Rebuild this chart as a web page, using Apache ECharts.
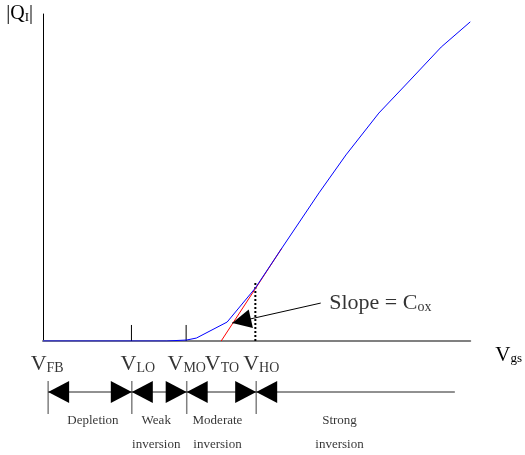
<!DOCTYPE html>
<html><head><meta charset="utf-8">
<script src="https://cdn.jsdelivr.net/npm/echarts@6/dist/echarts.min.js"></script>
<style>html,body{margin:0;padding:0;background:#fff}#c{width:525px;height:455px}</style>
</head><body><div id="c"></div>
<script>
// Gate voltage (arbitrary units) and inversion charge |Q_I| (arbitrary units)
const vgs = [0, 28.9, 33.6, 35.9, 43.1, 49.7, 55.9, 64.6, 70.9, 78.6, 85.5, 93.2, 100];
const qi  = [0, 0, 0.3, 0.9, 5.8, 16.2, 28.4, 45.3, 56.9, 69.7, 79.2, 89.9, 97.6];
// Strong-inversion extrapolation (slope = Cox)
const asymVgs = [41.7, 55.9];
const asymQi  = [0, 28.4];
// Characteristic voltages
const vNames  = ['FB', 'LO', 'MO', 'TO', 'HO'];
const vValues = [1.2, 20.7, 33.5, 41.7, 49.7];
// Axis tick marks and V_HO marker height
const tickVs = [20.7, 33.5];
const hoMarkQi = 18;
// Region boundaries and names
const regionBounds = [1.2, 20.7, 33.5, 49.7, 96];
const regionNames = [['Depletion', ' '], ['Weak', 'inversion'], ['Moderate', 'inversion'], ['Strong', 'inversion']];
// "Slope = Cox" annotation arrow (tail -> tip) in chart units
const slopeTail = [65.0, 11.6];
const slopeTip  = [44.3, 5.5];

const FONT = 'Liberation Serif';
// layout rows of the annotation lane (lane units, 0 = top of lane)
const ROW_V = 19.6, ROW_ARROW = 47, SEP_TOP = 36, SEP_BOT = 69, ROW_TEXT = 88;
const vLabelOffsets = [-1, 6, 0, 0, 5];
const regionLabelOffsets = [3, -3, -4, -16];

function makeArrowHead(L, W) {
  return function (params, api) {
    const tip = api.coord([api.value(0), api.value(1)]);
    const tail = api.coord([api.value(2), api.value(3)]);
    const dx = tip[0] - tail[0], dy = tip[1] - tail[1];
    const len = Math.hypot(dx, dy) || 1;
    const ux = dx / len, uy = dy / len;
    const bx = tip[0] - ux * L, by = tip[1] - uy * L;
    return {
      type: 'polygon',
      shape: { points: [tip, [bx - uy * W, by + ux * W], [bx + uy * W, by - ux * W]] },
      style: { fill: '#000' }
    };
  };
}

const series = [];
// extrapolated red line
series.push({
  type: 'line', xAxisIndex: 0, yAxisIndex: 0, symbol: 'none', z: 3,
  data: asymVgs.map((x, i) => [x, asymQi[i]]),
  lineStyle: { color: '#ff0000', width: 1 }
});
// |Q_I| curve
series.push({
  type: 'line', xAxisIndex: 0, yAxisIndex: 0, symbol: 'none', z: 4,
  data: vgs.map((x, i) => [x, qi[i]]),
  lineStyle: { color: '#0000ff', width: 1 }
});
// tick marks
tickVs.forEach(v => series.push({
  type: 'line', xAxisIndex: 0, yAxisIndex: 0, symbol: 'none', z: 2,
  data: [[v, 0], [v, 4.9]], lineStyle: { color: '#000', width: 1 }
}));
// dotted marker at V_HO
series.push({
  type: 'line', xAxisIndex: 0, yAxisIndex: 0, symbol: 'none', z: 2,
  data: [[vValues[4], 0], [vValues[4], hoMarkQi]],
  lineStyle: { color: '#000', width: 2, type: [2, 2] }
});
// slope arrow
series.push({
  type: 'line', xAxisIndex: 0, yAxisIndex: 0, symbol: 'none', z: 5,
  data: [slopeTail, slopeTip], lineStyle: { color: '#000', width: 1 }
});
series.push({
  type: 'custom', xAxisIndex: 0, yAxisIndex: 0, z: 6,
  renderItem: makeArrowHead(19, 9.5), data: [[slopeTip[0], slopeTip[1], slopeTail[0], slopeTail[1]]]
});
series.push({
  type: 'scatter', xAxisIndex: 0, yAxisIndex: 0, symbolSize: 1, z: 6,
  itemStyle: { color: 'rgba(0,0,0,0)' },
  data: [slopeTail],
  label: {
    show: true, position: 'right', distance: 8, color: '#000',
    formatter: '{a|Slope = C}{s|ox}',
    rich: {
      a: { fontFamily: FONT, fontSize: 22, color: '#000', verticalAlign: 'bottom' },
      s: { fontFamily: FONT, fontSize: 14, color: '#000', verticalAlign: 'bottom' }
    }
  }
});

// annotation lane (grid 1)
regionBounds.slice(0, 4).forEach(v => series.push({
  type: 'line', xAxisIndex: 1, yAxisIndex: 1, symbol: 'none',
  data: [[v, SEP_TOP], [v, SEP_BOT]], lineStyle: { color: '#808080', width: 1.5 }
}));
series.push({
  type: 'line', xAxisIndex: 1, yAxisIndex: 1, symbol: 'none',
  data: [[regionBounds[0], ROW_ARROW], [regionBounds[regionBounds.length - 1], ROW_ARROW]],
  lineStyle: { color: '#222', width: 1 }
});
const heads = [];
for (let i = 0; i < regionBounds.length - 1; i++) {
  const a = regionBounds[i], b = regionBounds[i + 1];
  heads.push([a, ROW_ARROW, b, ROW_ARROW]);
  if (i < regionBounds.length - 2) heads.push([b, ROW_ARROW, a, ROW_ARROW]);
}
series.push({
  type: 'custom', xAxisIndex: 1, yAxisIndex: 1, z: 5, renderItem: makeArrowHead(21, 11), data: heads
});
series.push({
  type: 'scatter', xAxisIndex: 1, yAxisIndex: 1, symbolSize: 1,
  itemStyle: { color: 'rgba(0,0,0,0)' },
  data: vValues.map((v, i) => ({
    value: [v, ROW_V],
    label: { formatter: '{v|V}{s|' + vNames[i] + '}', offset: [vLabelOffsets[i], 0] }
  })),
  label: {
    show: true, position: 'inside',
    rich: {
      v: { fontFamily: FONT, fontSize: 22, color: '#000', verticalAlign: 'bottom' },
      s: { fontFamily: FONT, fontSize: 14, color: '#000', verticalAlign: 'bottom' }
    }
  }
});
series.push({
  type: 'scatter', xAxisIndex: 1, yAxisIndex: 1, symbolSize: 1,
  itemStyle: { color: 'rgba(0,0,0,0)' },
  data: regionNames.map((n, i) => ({
    value: [(regionBounds[i] + regionBounds[i + 1]) / 2, ROW_TEXT],
    label: { formatter: n.join('\n'), offset: [regionLabelOffsets[i], 0] }
  })),
  label: {
    show: true, position: 'inside', fontFamily: FONT, fontSize: 13, color: '#000',
    lineHeight: 24, align: 'center'
  }
});

const hidden = { show: false };
const option = {
  animation: false,
  backgroundColor: '#fff',
  grid: [
    { left: 43, right: 53, top: 14, bottom: 114 },
    { left: 43, right: 53, top: 345, bottom: 0 }
  ],
  xAxis: [
    {
      type: 'value', gridIndex: 0, min: 0, max: 100,
      axisLine: { show: true, onZero: false, lineStyle: { color: '#808080', width: 2 } },
      axisTick: hidden, axisLabel: hidden, splitLine: hidden,
      name: '{v|V}{s|gs}', nameLocation: 'end', nameGap: 25,
      nameTextStyle: {
        align: 'left', verticalAlign: 'middle', padding: [28, 0, 0, 0],
        rich: {
          v: { fontFamily: FONT, fontSize: 21, color: '#000', verticalAlign: 'bottom' },
          s: { fontFamily: FONT, fontSize: 13, color: '#000', verticalAlign: 'bottom' }
        }
      }
    },
    { type: 'value', gridIndex: 1, min: 0, max: 100, show: false }
  ],
  yAxis: [
    {
      type: 'value', gridIndex: 0, min: 0, max: 100,
      axisLine: { show: true, lineStyle: { color: '#000', width: 1 } },
      axisTick: hidden, axisLabel: hidden, splitLine: hidden,
      name: '{m||Q}{s|I}{m||}', nameLocation: 'end', nameGap: 0,
      nameTextStyle: {
        align: 'right', verticalAlign: 'middle', padding: [0, 10, 0, 0],
        rich: {
          m: { fontFamily: FONT, fontSize: 20, color: '#000', verticalAlign: 'bottom' },
          s: { fontFamily: FONT, fontSize: 13, color: '#000', verticalAlign: 'bottom' }
        }
      }
    },
    { type: 'value', gridIndex: 1, min: 0, max: 110, inverse: true, show: false }
  ],
  series: series
};
const chart = echarts.init(document.getElementById('c'), null, { renderer: 'canvas' });
chart.setOption(option);
</script>
</body></html>
